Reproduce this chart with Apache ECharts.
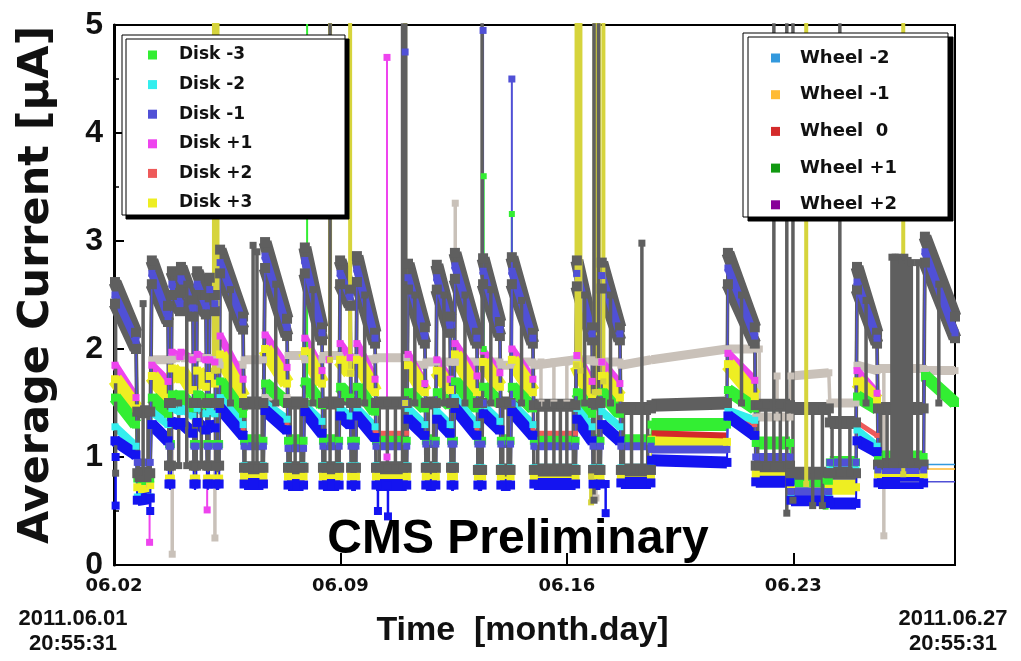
<!DOCTYPE html>
<html><head><meta charset="utf-8">
<script src="https://cdn.jsdelivr.net/npm/echarts@6/dist/echarts.min.js"></script>
<style>html,body{margin:0;padding:0;background:#fff}#c{width:1021px;height:661px}</style>
</head><body><div id="c"></div>
<script>
// ---------- DATA (time in days since 06.02 00:00) ----------
const xTickLabels = {0:'06.02', 7:'06.09', 14:'06.16', 21:'06.23'};
const startLabel = ['2011.06.01', '20:55:31'];
const endLabel = ['2011.06.27', '20:55:31'];

// beam / no-beam periods [start, end]
const periods = [[0.03,0.68],[0.72,1.12],[1.17,1.67],[1.70,1.76],[1.79,2.04],[2.07,2.44],[2.47,2.54],[2.57,2.84],[2.88,2.93],[2.96,3.12],[3.15,3.25],[3.28,3.99],[4.02,4.62],[4.67,5.35],[5.38,5.86],[5.90,6.43],[6.46,6.96],[6.99,7.30],[7.33,7.48],[7.51,8.07],[8.10,9.05],[9.09,9.61],[9.64,9.95],[9.98,10.39],[10.42,10.51],[10.54,11.22],[11.25,11.38],[11.41,11.93],[11.96,12.26],[12.30,12.95],[12.98,14.27],[14.31,14.78],[14.81,15.04],[15.08,15.64],[15.67,16.60],[16.62,18.95],[18.98,19.81],[19.84,20.90],[20.93,22.10],[22.13,22.94],[22.97,23.59],[23.62,25.03],[25.07,26.00]];

// values [at period start, at period end] per period, in µA
const grayTop = [[2.62,2.15],[1.42,1.42],[2.82,2.40],[1.50,1.50],[2.72,2.52],[2.76,2.45],[1.50,1.50],[2.72,2.50],[1.50,1.50],[2.66,2.50],[1.50,1.50],[2.92,2.30],[1.50,1.50],[2.99,2.28],[1.50,1.50],[2.94,2.20],[1.50,1.50],[2.82,2.55],[1.50,1.50],[2.86,2.15],[1.50,1.50],[2.79,2.20],[1.50,1.50],[2.78,2.30],[1.50,1.50],[2.89,2.15],[1.50,1.50],[2.84,2.25],[1.50,1.50],[2.85,2.15],[1.48,1.48],[2.82,2.20],[1.50,1.50],[2.80,2.20],[1.45,1.45],[1.48,1.50],[2.89,2.20],[1.48,1.48],[1.45,1.45],[1.32,1.32],[2.76,2.15],[1.45,1.45],[3.04,2.30]];
const grayLow = [[2.42,2.00],[0.85,0.85],[2.60,2.25],[0.92,0.92],[2.50,2.35],[2.55,2.30],[0.92,0.92],[2.50,2.32],[0.92,0.92],[2.45,2.35],[0.92,0.92],[2.70,2.18],[0.90,0.90],[2.75,2.12],[0.90,0.90],[2.70,2.08],[0.90,0.90],[2.60,2.40],[0.90,0.90],[2.62,2.05],[0.90,0.90],[2.55,2.05],[0.90,0.90],[2.55,2.15],[0.90,0.90],[2.65,2.05],[0.88,0.88],[2.60,2.12],[0.88,0.88],[2.60,2.05],[0.88,0.88],[2.58,2.08],[0.88,0.88],[2.56,2.08],[0.88,0.88],null,[2.60,2.05],[0.92,0.92],[0.85,0.85],[0.85,0.85],[2.55,2.05],[0.93,0.93],[2.80,2.10]];
const grayMid = {2:[1.5,1.5],4:[1.5,1.5],5:[1.5,1.5],7:[1.5,1.5],9:[1.5,1.5],11:[1.5,1.5],13:[1.5,1.5],15:[1.5,1.5],17:[1.5,1.5],19:[1.5,1.5],21:[1.5,1.5],23:[1.5,1.5],25:[1.5,1.5],27:[1.5,1.5],29:[1.5,1.5],31:[1.5,1.5],33:[1.5,1.5]};
const lightGray = [null,null,[1.90,1.90],[1.90,1.90],[1.92,1.92],[1.92,1.92],[1.92,1.92],[1.92,1.92],[1.92,1.92],[1.90,1.90],[1.90,1.90],[1.85,1.85],[1.90,1.90],[1.55,1.55],[1.94,1.94],[1.90,1.90],[1.94,1.94],[1.92,1.92],[1.92,1.92],[1.90,1.90],[1.92,1.92],[1.85,1.85],[1.88,1.88],[1.88,1.88],[1.88,1.88],[1.88,1.88],[1.88,1.88],[1.88,1.88],[1.85,1.85],[1.88,1.88],[1.85,1.90],[1.90,1.90],[1.88,1.88],[1.88,1.88],[1.85,1.90],[1.90,2.00],[2.00,2.00],[1.37,1.37],[1.75,1.78],[1.50,1.50],[1.85,1.80],[1.82,1.82],[1.80,1.80]];
const diskM1 = [[2.50,2.08],[0.95,0.95],[2.70,2.30],[1.10,1.10],[2.60,2.42],[2.65,2.38],[1.10,1.10],[2.60,2.40],[1.10,1.10],[2.55,2.42],[1.10,1.10],[2.80,2.25],[1.10,1.10],[2.86,2.20],[1.08,1.08],[2.82,2.15],[1.10,1.10],[2.70,2.48],[1.10,1.10],[2.74,2.10],[1.10,1.10],[2.66,2.12],[1.12,1.12],[2.66,2.22],[1.12,1.12],[2.77,2.10],[1.12,1.12],[2.72,2.18],[1.12,1.12],[2.72,2.10],[1.10,1.10],[2.70,2.14],[1.10,1.10],[2.68,2.14],[1.10,1.10],[1.07,1.07],[2.75,2.12],[1.00,1.00],[0.68,0.68],[0.95,0.95],[2.62,2.10],[0.88,0.88],[2.90,2.15]];
const diskP1 = [[1.85,1.55],null,[1.85,1.70],null,[1.97,1.93],[1.97,1.90],null,[1.95,1.90],null,[1.90,1.88],null,[2.12,1.72],null,[2.13,1.83],null,[2.10,1.80],null,[2.05,1.92],null,[2.05,1.72],null,[1.95,1.68],null,[1.90,1.72],null,[2.05,1.75],null,[1.98,1.78],null,[2.00,1.72],null,[1.94,1.70],null,[1.88,1.68],null,null,[1.96,1.71],null,null,null,[1.80,1.59],null,null];
const diskP3 = [[1.72,1.45],[0.72,0.74],[1.75,1.55],[0.80,0.80],[1.82,1.72],[1.80,1.62],[0.80,0.80],[1.80,1.65],[0.80,0.80],[1.75,1.68],[0.80,0.80],[1.95,1.55],[0.82,0.82],[2.00,1.68],[0.82,0.82],[1.98,1.68],[0.82,0.82],[1.90,1.78],[0.82,0.82],[1.90,1.60],[0.82,0.82],[1.85,1.60],[0.82,0.82],[1.80,1.62],[0.82,0.82],[1.95,1.60],[0.82,0.82],[1.88,1.65],[0.82,0.82],[1.90,1.60],[0.82,0.82],[1.85,1.55],[0.82,0.82],[1.75,1.55],[0.82,0.82],[1.16,1.14],[1.86,1.56],[0.84,0.84],[0.75,0.75],[0.72,0.72],[1.70,1.52],[0.84,0.84],null];
const diskM3 = [[1.55,1.30],[0.80,0.80],[1.55,1.40],[1.12,1.12],[1.58,1.52],[1.58,1.45],[1.12,1.12],[1.58,1.48],[1.12,1.12],[1.55,1.50],[1.12,1.12],[1.70,1.40],[1.15,1.15],[1.68,1.50],[1.15,1.15],[1.70,1.48],[1.15,1.15],[1.65,1.55],[1.15,1.15],[1.65,1.42],[1.15,1.15],[1.60,1.45],[1.15,1.15],[1.60,1.48],[1.15,1.15],[1.70,1.45],[1.15,1.15],[1.65,1.50],[1.15,1.15],[1.65,1.45],[1.15,1.15],[1.60,1.40],[1.15,1.15],[1.60,1.40],[1.15,1.15],[1.30,1.30],[1.62,1.45],[1.13,1.13],[0.78,0.78],[0.95,0.95],[1.56,1.45],[1.00,1.00],[1.75,1.50]];
const diskM2 = [[1.28,1.10],[0.63,0.63],[1.42,1.30],[0.93,0.93],[1.45,1.42],[1.45,1.38],[0.93,0.93],[1.45,1.40],[0.93,0.93],[1.42,1.40],[0.93,0.93],[1.55,1.30],[0.92,0.92],[1.50,1.35],[0.92,0.92],[1.48,1.33],[0.92,0.92],[1.45,1.38],[0.92,0.92],[1.45,1.28],[0.92,0.92],[1.45,1.30],[0.92,0.92],[1.42,1.30],[0.92,0.92],[1.55,1.30],[0.90,0.90],[1.48,1.33],[0.90,0.90],[1.50,1.30],[0.90,0.90],[1.45,1.28],[0.90,0.90],[1.42,1.28],[0.90,0.90],null,[1.43,1.34],[0.92,0.92],[0.62,0.62],[0.88,0.88],[1.25,1.10],[0.90,0.90],null];
const diskP2 = {11:[1.50,1.27],13:[1.47,1.32],19:[1.42,1.25],20:[1.22,1.22],25:[1.50,1.27],29:[1.47,1.27],30:[1.22,1.22],36:[1.40,1.30],40:[1.32,1.20]};
const blueLow = [[1.15,1.02],[0.60,0.62],[1.30,1.15],[0.75,0.75],[1.32,1.30],[1.32,1.22],[0.75,0.75],[1.32,1.25],[0.75,0.75],[1.30,1.27],[0.75,0.75],[1.45,1.20],[0.75,0.75],[1.43,1.25],[0.74,0.74],[1.42,1.22],[0.74,0.74],[1.38,1.30],[0.74,0.74],[1.38,1.18],[0.74,0.74],[1.35,1.20],[0.74,0.74],[1.35,1.22],[0.74,0.74],[1.45,1.20],[0.74,0.74],[1.40,1.25],[0.74,0.74],[1.42,1.20],[0.75,0.75],[1.35,1.15],[0.75,0.75],[1.30,1.15],[0.76,0.76],[0.97,0.95],[1.38,1.20],[0.77,0.77],[0.60,0.60],[0.57,0.57],[1.15,1.05],[0.76,0.76],null];
const wheel0 = {35:[1.22,1.20]};
const wheelP1 = {12:[1.50,1.50],20:[1.50,1.50],30:[1.48,1.48]};
const wheelP2 = {20:[0.90,0.90],30:[0.88,0.88]};
const wheelM2Line = [[20.9,0.90],[21.45,0.90],[21.45,0.80],[20.9,0.80],[20.9,0.71],[21.45,0.71],[21.45,0.63],[20.9,0.63],[20.9,null],[24.5,0.93],[26.0,0.93]];
const wheelM1Line = [[21.0,0.86],[21.5,0.86],[21.5,null],[24.5,0.89],[26.0,0.89]];
const diskM1Tail = [[24.3,0.77],[26.0,0.77]];

// vertical excursions [time, from, to]
const grayVerticals = [[0.05,0.85,2.62],[0.75,0.8,1.42],[0.9,0.8,2.42],[1.05,0.8,1.42],[1.72,0.92,1.5],[2.0,0.92,1.5],[2.25,0.92,2.6],[2.5,0.92,1.5],[2.7,0.92,1.5],[2.9,0.92,1.5],[3.2,0.92,1.5],[3.6,1.5,2.55],[4.05,0.9,1.5],[4.3,0.9,2.96],[4.42,0.9,2.9],[4.58,0.9,1.5],[5.0,1.5,2.6],[5.45,0.9,1.5],[5.6,0.9,1.5],[5.78,0.9,1.5],[6.15,1.5,2.55],[6.52,0.9,1.5],[6.68,0.9,5.5],[6.88,0.9,1.5],[7.4,0.9,1.5],[7.75,1.5,2.5],[8.2,0.9,1.5],[8.45,0.9,1.5],[8.7,0.9,1.5],[8.92,0.9,5.5],[9.02,0.9,5.5],[9.3,1.5,2.5],[9.72,0.9,1.5],[9.88,0.9,1.5],[10.2,1.5,2.5],[10.46,0.9,1.5],[10.85,1.5,2.5],[11.3,0.88,1.5],[11.38,0.88,5.5],[11.65,1.5,2.55],[12.02,0.88,1.5],[12.18,0.88,1.5],[12.6,1.5,2.45],[13.1,0.88,1.48],[13.35,0.88,1.48],[13.6,0.88,1.48],[13.8,0.88,1.48],[14.0,0.88,1.48],[14.2,0.88,1.48],[14.55,1.5,2.5],[14.84,0.6,5.5],[14.98,0.88,5.5],[15.35,1.5,2.5],[15.75,0.88,1.45],[16.0,0.88,1.45],[16.32,0.88,2.98],[16.5,0.88,1.45],[19.4,1.5,2.5],[19.9,0.92,1.48],[20.15,0.92,1.48],[20.4,0.92,5.5],[20.6,0.92,1.48],[20.8,0.48,5.5],[20.99,0.6,5.5],[21.6,0.55,1.45],[21.9,0.55,1.45],[22.2,0.85,1.32],[22.44,0.85,5.5],[22.75,0.85,1.32],[23.25,1.5,2.45],[23.7,0.93,1.45],[23.9,0.93,1.45],[24.05,0.93,2.85],[24.15,0.93,2.85],[24.25,0.93,2.85],[24.35,0.93,2.82],[24.45,0.93,2.85],[24.55,0.93,2.82],[24.65,0.93,2.8],[24.85,0.93,2.8],[25.5,1.5,2.6]];
const lightGrayVerticals = [[1.8,1.9,0.1],[3.12,1.9,0.25],[10.55,1.88,3.35],[13.2,1.5,1.88],[13.6,1.5,1.88],[14.0,1.5,1.88],[14.9,1.88,0.62],[23.8,1.82,0.27],[19.95,1.37,2.0],[20.5,1.37,1.75]];
const yellowVerticals = [[3.09,1.8,5.5],[3.2,1.8,5.5],[6.68,1.9,5.5],[7.3,1.78,5.5],[9.0,1.5,5.5],[14.3,1.85,5.5],[14.42,1.8,5.5],[14.86,1.6,5.5],[14.93,1.6,5.5],[14.99,1.6,5.5],[15.13,1.7,5.5],[21.4,0.75,5.5],[24.4,0.84,5.5],[14.75,0.82,0.58]];
const magentaVerticals = [[6.65,1.9,5.5],[8.44,1.0,4.7],[1.1,0.75,0.21],[2.88,0.8,0.51]];
const greenVerticals = [[5.97,1.5,5.5],[12.3,1.5,3.25],[11.43,2.0,3.6],[22.0,0.78,0.54]];
const blueVerticals = [[0.05,1.0,0.55],[1.12,0.62,0.5],[8.16,0.74,0.5],[8.47,0.74,0.45],[15.2,0.75,0.48]];
const slateVerticals = [[9.0,1.5,4.75],[12.3,1.5,4.5],[11.41,1.5,4.95]];

// ---------- BUILD ----------
const S = [];
const base = {type:'line', silent:true, animation:false, emphasis:{disabled:true}, clip:true};
function full(v){ if (Array.isArray(v)) return v; return periods.map((_,i)=> v[i] || null); }
function band(name, color, vals, w, sym){
  vals = full(vals); const d = [];
  vals.forEach((v,i)=>{ if(!v||!periods[i]) return; d.push([periods[i][0],v[0]],[periods[i][1],v[1]],[periods[i][1],null]); });
  S.push(Object.assign({}, base, {name, data:d, symbol:'rect', symbolSize:sym, showSymbol:sym>0, itemStyle:{color}, lineStyle:{width:w, color, cap:'butt'}}));
}
function conn(name, color, vals, w){
  vals = full(vals); const d = [];
  for(let i=0;i<vals.length-1;i++){ const a=vals[i], b=vals[i+1]; if(!a||!b||!periods[i+1]) continue;
    d.push([periods[i][1],a[1]],[periods[i+1][0],b[0]],[periods[i+1][0],null]); }
  S.push(Object.assign({}, base, {name, data:d, symbol:'none', itemStyle:{color}, lineStyle:{width:w, color}}));
}
function verts(name, color, list, w, sym){
  const d = []; list.forEach(([t,a,b])=>{ d.push([t,a],[t,b],[t,null]); });
  S.push(Object.assign({}, base, {name, data:d, symbol:'rect', symbolSize:sym, showSymbol:sym>0, itemStyle:{color}, lineStyle:{width:w, color}}));
}
function path(name, color, pts, w){
  S.push(Object.assign({}, base, {name, data:pts, symbol:'none', itemStyle:{color}, lineStyle:{width:w, color}}));
}
const C = {gray:'#5f5f5f', lg:'#c9c1b9', mag:'#ee44ee', yel:'#eeee22', yelTall:'#d6d43c', grn:'#33ee33', cya:'#33eeee', sal:'#ee5a5a', blu:'#1414f0', sla:'#5050d6', w0:'#d42a2a'};

band('', C.lg, lightGray, 9, 7); conn('', C.lg, lightGray, 3.5); verts('', C.lg, lightGrayVerticals, 3.5, 7);
band('', C.gray, grayMid, 5, 0);
band('Wheel +1', '#119911', wheelP1, 4, 0);
band('Wheel +2', '#880099', wheelP2, 4, 0);
band('Disk +1', C.mag, diskP1, 8, 7); conn('Disk +1', C.mag, diskP1, 1.5); verts('Disk +1', C.mag, magentaVerticals, 2, 7);
band('Disk +3', C.yel, diskP3, 15, 8); conn('Disk +3', C.yel, diskP3, 1.5);
band('Disk -3', C.grn, diskM3, 13, 8); conn('Disk -3', C.grn, diskM3, 1.5); verts('Disk -3', C.grn, greenVerticals, 2, 6);
band('Disk +2', C.sal, diskP2, 5, 5);
band('Disk -2', C.cya, diskM2, 8, 7); conn('Disk -2', C.cya, diskM2, 1.5);
band('Wheel  0', C.w0, wheel0, 6, 0);
path('Wheel -2', '#3399dd', wheelM2Line, 1.5);
path('Wheel -1', '#ffbb33', wheelM1Line, 1.5);
band('', C.blu, blueLow, 12, 9); conn('', C.blu, blueLow, 2); verts('', C.blu, blueVerticals, 2.5, 8);
band('', C.gray, grayLow, 13, 10); conn('', C.gray, grayLow, 3.5);
band('', C.gray, grayTop, 13, 10); conn('', C.gray, grayTop, 3.5);
band('Disk -1', C.sla, diskM1, 8, 7); conn('Disk -1', C.sla, diskM1, 1.5); verts('Disk -1', C.sla, slateVerticals, 2, 7);
path('Disk -1', C.sla, diskM1Tail, 1.5);
verts('', C.yelTall, yellowVerticals, 4, 6);
verts('', C.gray, grayVerticals, 3.5, 7);

const legendText = (size)=>({fontFamily:'DejaVu Sans', fontWeight:'bold', fontSize:size, color:'#111', lineHeight:20});
const chart = echarts.init(document.getElementById('c'), null, {renderer:'canvas'});
chart.setOption({
  animation:false,
  backgroundColor:'#fff',
  grid:{left:114, right:66, top:25, bottom:96, show:true, borderColor:'#000', borderWidth:2, backgroundColor:'transparent'},
  xAxis:{type:'value', min:0, max:26, interval:7,
    name:'Time  [month.day]', nameLocation:'middle', nameGap:49,
    nameTextStyle:{fontFamily:'Liberation Sans', fontWeight:'bold', fontSize:34, color:'#111', padding:[0,24,0,0]},
    axisLine:{lineStyle:{color:'#000', width:2}},
    axisTick:{inside:true, length:12, lineStyle:{color:'#000', width:2}},
    splitLine:{show:false},
    axisLabel:{margin:12, fontFamily:'DejaVu Sans', fontWeight:'bold', fontSize:18, color:'#111', formatter:(v)=> xTickLabels[v] || ''}},
  yAxis:{type:'value', min:0, max:5, interval:1,
    name:'Average Current [µA]', nameLocation:'middle', nameGap:56,
    nameTextStyle:{fontFamily:'DejaVu Sans', fontWeight:'bold', fontSize:43, color:'#111', padding:[0,0,0,20]},
    axisLine:{lineStyle:{color:'#000', width:3}},
    axisTick:{inside:true, length:10, lineStyle:{color:'#000', width:2}},
    minorTick:{show:true, splitNumber:2, length:5, lineStyle:{color:'#000', width:1.5}},
    splitLine:{show:false},
    axisLabel:{margin:11, fontFamily:'Liberation Sans', fontWeight:'bold', fontSize:32, color:'#111'}},
  legend:[
    {data:['Disk -3','Disk -2','Disk -1','Disk +1','Disk +2','Disk +3'], orient:'vertical', left:143, top:40, itemGap:9.6,
     icon:'rect', itemWidth:9, itemHeight:9, z:20, textStyle:Object.assign(legendText(17), {padding:[0,0,0,17]}), selectedMode:false},
    {data:['Wheel -2','Wheel -1','Wheel  0','Wheel +1','Wheel +2'], orient:'vertical', left:766, top:43, itemGap:16.7,
     icon:'rect', itemWidth:9, itemHeight:9, z:20, textStyle:Object.assign(legendText(18), {padding:[0,0,0,15]}), selectedMode:false}
  ],
  graphic:[
    {type:'rect', z:10, shape:{x:122, y:35, width:223, height:180}, style:{fill:'#fff', stroke:'#000', lineWidth:1, shadowColor:'#000', shadowOffsetX:4, shadowOffsetY:4, shadowBlur:0}},
    {type:'rect', z:10, shape:{x:743, y:33, width:205, height:184}, style:{fill:'#fff', stroke:'#000', lineWidth:1, shadowColor:'#000', shadowOffsetX:5, shadowOffsetY:4, shadowBlur:0}},
    {type:'text', z:30, style:{text:'CMS Preliminary', x:518, y:540, align:'center', verticalAlign:'middle', font:'bold 48px "Liberation Sans"', fill:'#000'}},
    {type:'text', z:30, style:{text:startLabel[0], x:73, y:619, align:'center', verticalAlign:'middle', font:'bold 22px "Liberation Sans"', fill:'#111'}},
    {type:'text', z:30, style:{text:startLabel[1], x:73, y:644, align:'center', verticalAlign:'middle', font:'bold 22px "Liberation Sans"', fill:'#111'}},
    {type:'text', z:30, style:{text:endLabel[0], x:953, y:619, align:'center', verticalAlign:'middle', font:'bold 22px "Liberation Sans"', fill:'#111'}},
    {type:'text', z:30, style:{text:endLabel[1], x:953, y:644, align:'center', verticalAlign:'middle', font:'bold 22px "Liberation Sans"', fill:'#111'}}
  ],
  series:S
});
</script></body></html>
